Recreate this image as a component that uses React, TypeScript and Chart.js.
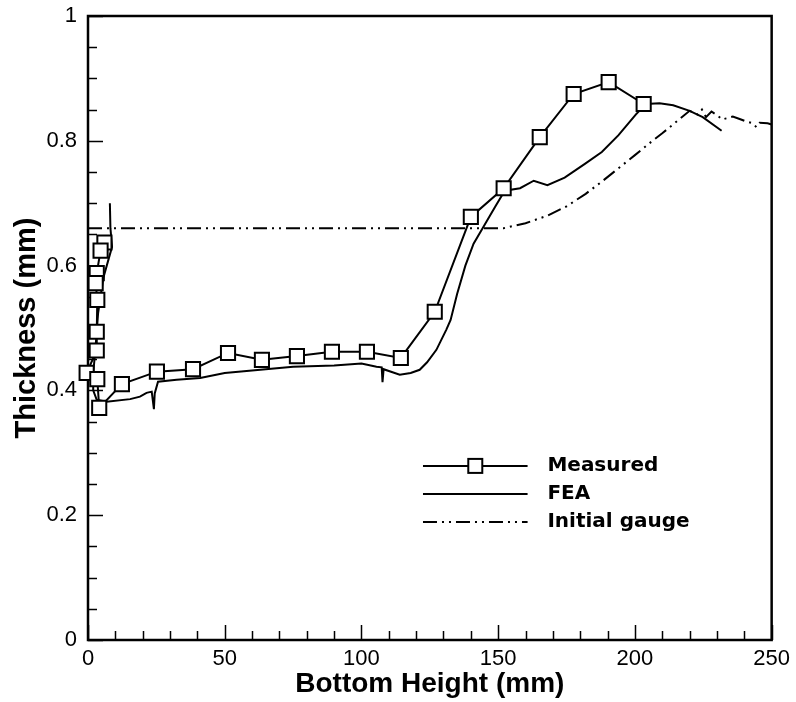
import React, { useEffect, useRef } from "react";
import { Chart, registerables } from "chart.js";

Chart.register(...registerables);

// ---- Data ----
const measuredX = [6.0, 4.6, 3.2, 2.8, 3.4, 3.2, 3.2, -0.5, 3.4, 4.1, 12.4, 25.2, 38.4, 51.2, 63.6, 76.4, 89.2, 102, 114.4, 126.8, 140, 152, 165.2, 177.6, 190.4, 203.2];
const measuredY = [0.637, 0.624, 0.588, 0.572, 0.545, 0.494, 0.464, 0.428, 0.418, 0.372, 0.41, 0.43, 0.434, 0.46, 0.449, 0.455, 0.462, 0.462, 0.452, 0.526, 0.678, 0.724, 0.806, 0.875, 0.894, 0.859];

const feaX = [8.0, 8.2, 8.8, 7.5, 5.6, 3.7, 2.6, 1.9, 1.9, 3.2, 6.8, 15.4, 19, 21.4, 23.3, 24.1, 24.4, 25.6, 32.4, 41, 50, 60, 75, 90, 100, 105.5, 107.4, 107.7, 108.1, 114, 118, 121.3, 124, 127.4, 131, 132.6, 135, 138, 141, 145, 149, 152.4, 158, 163, 168, 174.3, 181.7, 187.9, 194, 200.3, 204, 209, 214, 220, 224.8, 231.7];
const feaY = [0.70, 0.66, 0.63, 0.61, 0.58, 0.524, 0.46, 0.428, 0.40, 0.385, 0.382, 0.386, 0.39, 0.396, 0.398, 0.37, 0.395, 0.414, 0.417, 0.42, 0.428, 0.432, 0.438, 0.44, 0.443, 0.438, 0.437, 0.413, 0.434, 0.425, 0.428, 0.433, 0.445, 0.465, 0.497, 0.513, 0.555, 0.6, 0.635, 0.665, 0.695, 0.72, 0.724, 0.736, 0.729, 0.741, 0.763, 0.782, 0.809, 0.842, 0.859, 0.86, 0.857, 0.848, 0.838, 0.816];

const gaugeX = [0, 152, 160, 168, 175, 182, 188, 194, 200, 205, 210, 215, 220, 223, 224.5, 226, 228, 230, 232, 233.4, 235.8, 238.3, 240.7, 243.1, 244.4, 245.6, 248.5, 250];
const gaugeY = [0.66, 0.66, 0.668, 0.68, 0.695, 0.715, 0.735, 0.756, 0.777, 0.795, 0.812, 0.83, 0.848, 0.842, 0.85, 0.838, 0.847, 0.841, 0.834, 0.836, 0.839, 0.835, 0.831, 0.828, 0.822, 0.829, 0.828, 0.826];

const seriesNames = ["Measured", "FEA", "Initial gauge"];
const xTickValues = [0, 50, 100, 150, 200, 250];
const yTickLabels = ["0", "0.2", "0.4", "0.6", "0.8", "1"];

const xTitle = "Bottom Height (mm)";
const yTitle = "Thickness (mm)";

const GAUGE_DASH = [14, 5, 2, 5, 2, 5];

const toPoints = (xs: number[], ys: number[]) => xs.map((x, i) => ({ x, y: ys[i] }));

const framePlugin = {
  id: "frameTicks",
  beforeDatasetsDraw(chart: any) {
    const { ctx, chartArea } = chart;
    const xs = chart.scales.x;
    const ys = chart.scales.y;
    ctx.save();
    ctx.strokeStyle = "#000";
    ctx.lineWidth = 2.5;
    ctx.strokeRect(chartArea.left, chartArea.top, chartArea.right - chartArea.left, chartArea.bottom - chartArea.top);
    ctx.lineWidth = 1.5;
    ctx.beginPath();
    for (let v = 0; v <= 250.001; v += 10) {
      const px = Math.round(xs.getPixelForValue(v)) + 0.5;
      const major = Math.abs(v % 50) < 1e-6;
      const len = major ? 15 : 9;
      ctx.moveTo(px, chartArea.bottom);
      ctx.lineTo(px, chartArea.bottom - len);
    }
    for (let i = 0; i <= 20; i++) {
      const v = i * 0.05;
      const py = Math.round(ys.getPixelForValue(v)) + 0.5;
      const major = i % 4 === 0;
      const len = major ? 15 : 9;
      ctx.moveTo(chartArea.left, py);
      ctx.lineTo(chartArea.left + len, py);
    }
    ctx.stroke();
    ctx.restore();
  },
  afterDraw(chart: any) {
    const { ctx, chartArea } = chart;
    const w = chartArea.right - chartArea.left;
    const h = chartArea.bottom - chartArea.top;
    const x0 = chartArea.left + 0.49 * w;
    const x1 = chartArea.left + 0.643 * w;
    const tx = chartArea.left + 0.672 * w;
    const rows = [0.721, 0.766, 0.811].map((f) => chartArea.top + f * h);
    ctx.save();
    ctx.strokeStyle = "#000";
    ctx.lineWidth = 2;
    rows.forEach((y, i) => {
      ctx.setLineDash(i === 2 ? GAUGE_DASH : []);
      ctx.beginPath();
      ctx.moveTo(x0, y);
      ctx.lineTo(x1, y);
      ctx.stroke();
    });
    ctx.setLineDash([]);
    const cx = (x0 + x1) / 2;
    ctx.fillStyle = "#fff";
    ctx.fillRect(cx - 7, rows[0] - 7, 14, 14);
    ctx.strokeRect(cx - 7, rows[0] - 7, 14, 14);
    ctx.fillStyle = "#000";
    ctx.font = "bold 20px 'DejaVu Sans'";
    ctx.textBaseline = "middle";
    ctx.textAlign = "left";
    rows.forEach((y, i) => ctx.fillText(seriesNames[i], tx, y));
    ctx.restore();
  },
};

export default function App() {
  const ref = useRef<HTMLCanvasElement>(null);
  useEffect(() => {
    if (!ref.current) return;
    const chart = new Chart(ref.current, {
      type: "scatter",
      data: {
        datasets: [
          {
            label: seriesNames[0],
            data: toPoints(measuredX, measuredY),
            showLine: true,
            borderColor: "#000",
            borderWidth: 2,
            pointStyle: "rect",
            pointRadius: 10,
            pointBorderWidth: 2,
            pointBackgroundColor: "#fff",
            pointBorderColor: "#000",
            clip: false,
          } as any,
          {
            label: seriesNames[1],
            data: toPoints(feaX, feaY),
            showLine: true,
            borderColor: "#000",
            borderWidth: 2,
            pointRadius: 0,
            tension: 0,
          },
          {
            label: seriesNames[2],
            data: toPoints(gaugeX, gaugeY),
            showLine: true,
            borderColor: "#000",
            borderWidth: 2,
            borderDash: GAUGE_DASH,
            pointRadius: 0,
          },
        ],
      },
      options: {
        animation: false,
        responsive: false,
        layout: { padding: { left: 0, right: 24, top: 16, bottom: 0 } },
        plugins: { legend: { display: false }, tooltip: { enabled: false } },
        scales: {
          x: {
            type: "linear",
            min: 0,
            max: 250,
            afterFit: (s: any) => { s.height = 62; },
            afterBuildTicks: (s: any) => { s.ticks = xTickValues.map((v) => ({ value: v })); },
            grid: { display: false, drawTicks: false },
            border: { display: false },
            ticks: { color: "#000", font: { family: "'Liberation Sans', Arial", size: 22 }, padding: 6, maxRotation: 0, autoSkip: false },
            title: { display: true, text: xTitle, color: "#000", font: { family: "'Liberation Sans', Arial", size: 28, weight: "bold" }, padding: { top: 0, bottom: 1 } },
          },
          y: {
            type: "linear",
            min: 0,
            max: 1,
            afterFit: (s: any) => { s.width = 88; },
            afterBuildTicks: (s: any) => { s.ticks = yTickLabels.map((_, i) => ({ value: i * 0.2 })); },
            grid: { display: false, drawTicks: false },
            border: { display: false },
            ticks: {
              color: "#000",
              font: { family: "'Liberation Sans', Arial", size: 22, lineHeight: 0.4 },
              padding: 11,
              callback: (_v: any, i: number) => yTickLabels[i],
            },
            title: { display: true, text: yTitle, color: "#000", font: { family: "'Liberation Sans', Arial", size: 29, weight: "bold" }, padding: { top: 10, bottom: 0 } },
          },
        },
      },
      plugins: [framePlugin],
    } as any);
    return () => chart.destroy();
  }, []);
  return (
    <div style={{ position: "fixed", left: 0, top: 0, width: 796, height: 702, background: "#fff" }}>
      <canvas ref={ref} width={796} height={702} style={{ display: "block" }} />
    </div>
  );
}
